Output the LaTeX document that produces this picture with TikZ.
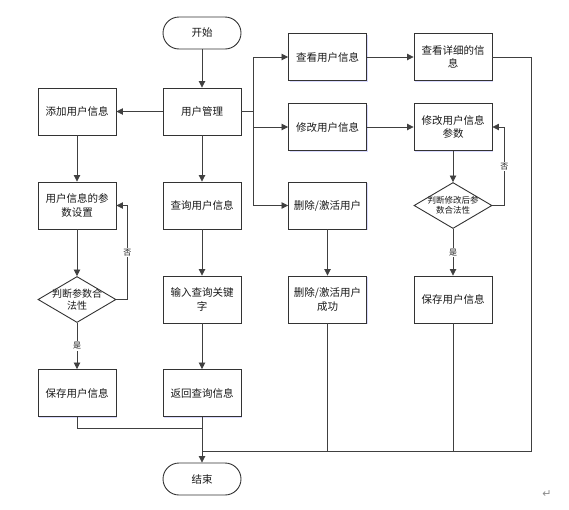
\documentclass[tikz,border=0pt]{standalone}
\usepackage{fontspec}
\setmainfont{Noto Sans CJK SC}
\newfontfamily\symfont{DejaVu Sans}
\usetikzlibrary{arrows.meta,shapes.geometric,shadows}
\begin{document}
\begin{tikzpicture}[x=1pt,y=-1pt,
  every node/.style={font=\fontsize{10.5}{13.5}\selectfont, text=black!90},
  box/.style={draw=black!80, line width=0.9pt, fill=white, minimum width=78pt, minimum height=47pt, inner sep=1pt, align=center,
     drop shadow={shadow xshift=1.2pt, shadow yshift=-1.2pt, fill=blue!25, opacity=0.6}},
  term/.style={draw=black!80, line width=0.9pt, fill=white, rounded corners=16pt, minimum width=78pt, minimum height=32pt, inner sep=1pt},
  dia/.style={draw=black!80, line width=0.9pt, fill=white, shape=diamond, minimum width=78pt, minimum height=46pt, inner sep=0pt},
  ln/.style={draw=black!75, line width=0.8pt},
  arr/.style={ln, -{Triangle[length=6.5pt,width=6.5pt]}},
  yn/.style={fill=white, inner sep=1pt, font=\fontsize{8}{9}\selectfont}
  ]
\useasboundingbox (0,0) rectangle (569,509);
% left column
\node[term] (start) at (202,33) {开始};
\node[box] (um) at (202,111.5) {用户管理};
\node[box] (add) at (77,111.5) {添加用户信息};
\node[box] (param) at (77,205.5) {用户信息的参\\数设置};
\node[dia, label={[align=center,font=\fontsize{10}{12.5}\selectfont]center:判断参数合\\法性}] (d1) at (77,299.5) {};
\node[box] (save1) at (77,393) {保存用户信息};
\node[box] (query) at (202,205.5) {查询用户信息};
\node[box] (input) at (202,299.5) {输入查询关键\\字};
\node[box] (ret) at (202,393) {返回查询信息};
\node[term] (end) at (202,479) {结束};
% right columns
\node[box] (view) at (327.5,57) {查看用户信息};
\node[box] (modify) at (327.5,127) {修改用户信息};
\node[box] (del) at (327.5,205.5) {删除/激活用户};
\node[box] (delok) at (327.5,299.5) {删除/激活用户\\成功};
\node[box] (detail) at (453,57) {查看详细的信\\息};
\node[box] (mparam) at (453,127) {修改用户信息\\参数};
\node[dia, label={[align=center,font=\fontsize{8.5}{10.5}\selectfont]center:判断修改后参\\数合法性}] (d2) at (453,205.5) {};
\node[box] (save2) at (453,299.5) {保存用户信息};
\node[text=black!45, font=\symfont\fontsize{11}{12}\selectfont] (para) at (547,494) {↵};
% connectors
\draw[arr] (start) -- (um);
\draw[arr] (um) -- (add);
\draw[arr] (um) -- (query);
\draw[arr] (um.east) -- ++(12,0) |- (view.west);
\draw[arr] (um.east) -- ++(12,0) |- (modify.west);
\draw[arr] (um.east) -- ++(12,0) |- (del.west);
\draw[arr] (add) -- (param);
\draw[arr] (param) -- (d1);
\draw[arr] (d1.east) -- ++(11,0) coordinate (c1) -- (c1 |- param.east) node[midway,yn]{否} -- (param.east);
\draw[arr] (d1) -- node[yn]{是} (save1);
\draw[arr] (query) -- (input);
\draw[arr] (input) -- (ret);
\draw[arr] (ret) -- (end);
\draw[ln] (save1.south) -- ++(0,11) coordinate (j1) -- (j1 -| ret.south);
\draw[arr] (view) -- (detail);
\draw[arr] (modify) -- (mparam);
\draw[arr] (mparam) -- (d2);
\draw[arr] (d2) -- node[yn]{是} (save2);
\draw[arr] (d2.east) -- ++(12,0) coordinate (c2) -- (c2 |- mparam.east) node[midway,yn]{否} -- (mparam.east);
\draw[arr] (del) -- (delok);
\path (end.north) ++(0,-11) coordinate (jb);
\draw[ln] (detail.east) -- ++(39,0) coordinate (r1) -- (r1 |- jb) -- (jb);
\draw[ln] (delok.south) -- (delok.south |- jb);
\draw[ln] (save2.south) -- (save2.south |- jb);
\end{tikzpicture}
\end{document}
